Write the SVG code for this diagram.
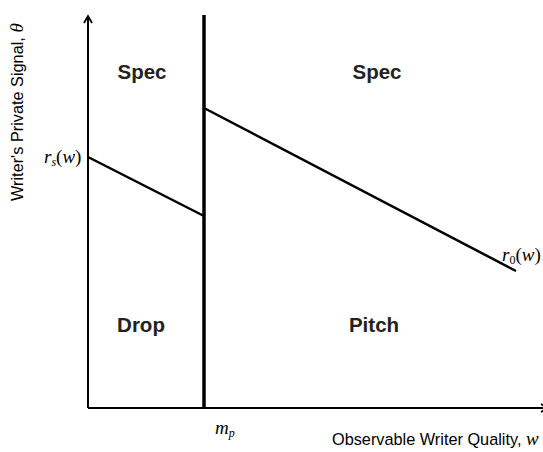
<svg xmlns="http://www.w3.org/2000/svg" width="543" height="452" viewBox="0 0 543 452">
<style>
.ax{stroke:#000;stroke-width:2;fill:none}
.thick{stroke:#000;stroke-width:3.5;fill:none}
.ln{stroke:#000;stroke-width:2.5;fill:none}
.reg{font-family:"Liberation Sans",Arial,sans-serif;font-weight:bold;font-size:20.5px;fill:#222;text-anchor:middle}
.lab{font-family:"Liberation Sans",Arial,sans-serif;font-size:16.3px;fill:#000}
.math{font-family:"Liberation Serif","Times New Roman",serif;font-style:italic;font-size:19px;fill:#000}
.sub{font-size:12px}
</style>
<defs>
<marker id="arr" markerWidth="10" markerHeight="10" refX="8" refY="5" orient="auto" markerUnits="userSpaceOnUse">
<path d="M1,1 L8,5 L1,9" fill="none" stroke="#000" stroke-width="1.8"/>
</marker>
</defs>
<g id="connectors">
<line id="y-axis" class="ax" x1="88" y1="408" x2="88" y2="16" marker-end="url(#arr)"/>
<line id="x-axis" class="ax" x1="88" y1="408" x2="548" y2="408" marker-end="url(#arr)"/>
<line id="mp-line" class="thick" x1="204" y1="15" x2="204" y2="408"/>
<line id="rs-line" class="ln" x1="88" y1="157" x2="204" y2="216"/>
<line id="r0-line" class="ln" x1="204" y1="108" x2="516" y2="271"/>
</g>
<g id="spec-left"><text class="reg" x="142" y="79">Spec</text></g>
<g id="spec-right"><text class="reg" x="377" y="79">Spec</text></g>
<g id="drop"><text class="reg" x="141" y="332">Drop</text></g>
<g id="pitch"><text class="reg" x="374" y="332">Pitch</text></g>
<g id="rs-label"><text class="math" x="44" y="163">r<tspan class="sub" dy="3">s</tspan><tspan dy="-3" font-style="normal">(</tspan>w<tspan font-style="normal">)</tspan></text></g>
<g id="r0-label"><text class="math" x="502" y="261">r<tspan class="sub" dy="3" font-style="normal">0</tspan><tspan dy="-3" font-style="normal">(</tspan>w<tspan font-style="normal">)</tspan></text></g>
<g id="mp-label"><text class="math" x="215" y="434">m<tspan class="sub" dy="3">p</tspan></text></g>
<g id="x-label"><text class="lab" x="332" y="445">Observable Writer Quality, <tspan class="math" font-size="19">w</tspan></text></g>
<g id="y-label"><text class="lab" transform="translate(23,201) rotate(-90)">Writer's Private Signal, <tspan class="math" font-size="19">θ</tspan></text></g>
</svg>
